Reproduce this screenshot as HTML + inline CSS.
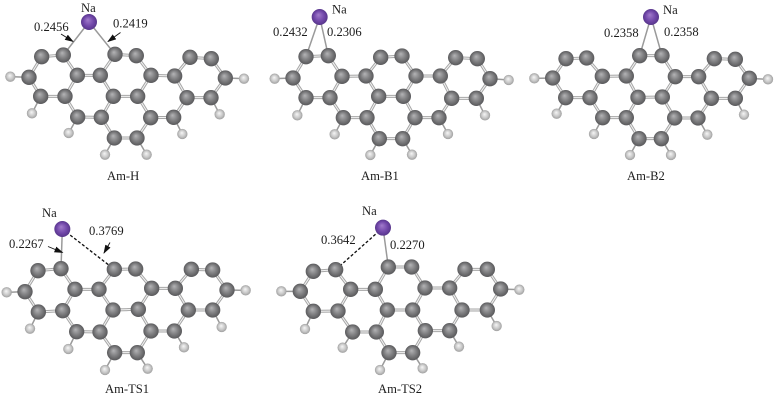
<!DOCTYPE html>
<html><head><meta charset="utf-8"><style>
html,body{margin:0;padding:0;background:#fff}
svg{display:block;filter:blur(.3px)}
text{font-family:"Liberation Serif",serif;font-size:12.6px;fill:#1c1c1c}
</style></head><body>
<svg width="776" height="402" viewBox="0 0 776 402" xmlns="http://www.w3.org/2000/svg">
<defs>
<radialGradient id="gc" cx="50%" cy="50%" r="52%" fx="42%" fy="36%"><stop offset="0" stop-color="#b4b4b6"/><stop offset=".5" stop-color="#838385"/><stop offset=".85" stop-color="#636365"/><stop offset="1" stop-color="#57575a"/></radialGradient>
<radialGradient id="gh" cx="50%" cy="50%" r="52%" fx="45%" fy="38%"><stop offset="0" stop-color="#f6f6f6"/><stop offset=".6" stop-color="#c8c8c8"/><stop offset="1" stop-color="#9c9c9c"/></radialGradient>
<radialGradient id="gn" cx="50%" cy="50%" r="52%" fx="42%" fy="36%"><stop offset="0" stop-color="#a27ccc"/><stop offset=".6" stop-color="#7248aa"/><stop offset="1" stop-color="#553488"/></radialGradient>
<circle id="c" r="23" fill="url(#gc)"/>
<circle id="h" r="15.5" fill="url(#gh)"/>
<circle id="n" r="24" fill="url(#gn)"/>
<marker id="ar" markerWidth="9" markerHeight="7" refX="8" refY="3" orient="auto" markerUnits="userSpaceOnUse"><path d="M0 0L9 3L0 6Z" fill="#111"/></marker>
<path id="b1" fill="none" d="M87 232L125 170L190 165L232 226L301 226L345 163L409 167L453 226L524 228L570 172L634 176L676 234L633 293L561 293L521 352L452 353L411 414L343 414L304 352L233 351L195 289L122 289ZM232 226L195 289M301 226L340 289L304 352M340 289L413 289L453 226M413 289L452 353M524 228L561 293"/>
<path id="b2" fill="none" d="M99 234L138 170L205 167L246 229L318 228L362 172L426 168L468 228L541 228L587 173L652 176L690 236L649 295L575 295L537 353L465 353L428 416L358 416L321 353L250 353L210 293L138 293ZM246 229L210 293M318 228L356 289L321 353M356 289L430 289L468 228M430 289L465 353M541 228L575 295"/>
<path id="b3" fill="none" d="M110 234L150 176L212 174L259 229L331 228L371 167L438 167L478 230L548 230L595 176L658 178L700 235L658 295L586 295L546 354L476 354L436 416L369 416L331 353L260 353L222 293L149 293ZM259 229L222 293M331 228L366 292L331 353M366 292L439 291L478 230M439 291L476 354M548 230L586 295"/>
<path id="b4" fill="none" d="M75 275L114 212L183 206L225 268L297 268L343 208L407 207L455 265L526 265L574 208L638 210L681 270L638 330L565 330L523 393L453 393L412 458L344 458L300 396L230 395L188 332L115 336ZM225 268L188 332M297 268L339 330L300 396M339 330L415 328L455 265M415 328L453 393M526 265L565 330"/>
<path id="b5" fill="none" d="M91 274L130 214L197 209L242 268L316 268L355 201L425 201L465 264L539 264L585 208L652 208L692 267L652 330L576 330L539 392L466 392L428 458L357 458L319 396L248 396L204 333L130 334ZM242 268L204 333M316 268L352 330L319 396M352 330L428 330L465 264M428 330L466 392M539 264L576 330"/>
</defs>

<!-- Am-H -->
<g transform="scale(.33333)">
<path fill="none" stroke="#9a9a9a" stroke-width="4.500" d="M31 230L87 232M96 340L122 289M206 399L233 351M315 464L343 414M440 464L411 414M547 402L521 352M659 343L633 293M732 236L676 234M267 66L190 165M267 66L345 163"/>
<use href="#b1" stroke="#a6a6a6" stroke-width="9"/><use href="#b1" stroke="#f4f4f4" stroke-width="3"/>
<use href="#c" x="125" y="170"/><use href="#c" x="190" y="165"/><use href="#c" x="87" y="232"/><use href="#c" x="232" y="226"/><use href="#c" x="301" y="226"/><use href="#c" x="122" y="289"/><use href="#c" x="195" y="289"/><use href="#c" x="233" y="351"/><use href="#c" x="304" y="352"/><use href="#c" x="340" y="289"/><use href="#c" x="413" y="289"/><use href="#c" x="345" y="163"/><use href="#c" x="409" y="167"/><use href="#c" x="453" y="226"/><use href="#c" x="524" y="228"/><use href="#c" x="570" y="172"/><use href="#c" x="634" y="176"/><use href="#c" x="676" y="234"/><use href="#c" x="561" y="293"/><use href="#c" x="633" y="293"/><use href="#c" x="452" y="353"/><use href="#c" x="521" y="352"/><use href="#c" x="343" y="414"/><use href="#c" x="411" y="414"/>
<use href="#h" x="31" y="230"/><use href="#h" x="96" y="340"/><use href="#h" x="206" y="399"/><use href="#h" x="315" y="464"/><use href="#h" x="440" y="464"/><use href="#h" x="547" y="402"/><use href="#h" x="659" y="343"/><use href="#h" x="732" y="236"/>
<use href="#n" x="267" y="66"/>
</g>
<line x1="61" y1="34" x2="73" y2="41.500" stroke="#111" stroke-width=".9" marker-end="url(#ar)"/>
<line x1="120.500" y1="32.500" x2="108" y2="41.500" stroke="#111" stroke-width=".9" marker-end="url(#ar)"/>
<text x="81" y="12">Na</text><text x="34" y="31">0.2456</text><text x="113" y="27.500">0.2419</text><text x="107" y="180">Am-H</text>

<!-- Am-B1 -->
<g transform="translate(260,0) scale(.33333)">
<path fill="none" stroke="#9a9a9a" stroke-width="4.500" d="M44 236L99 234M112 346L138 293M224 403L250 353M331 465L358 416M456 464L428 416M564 402L537 353M675 346L649 295M746 240L690 236M179 51L138 170M179 51L205 167"/>
<use href="#b2" stroke="#a6a6a6" stroke-width="9"/><use href="#b2" stroke="#f4f4f4" stroke-width="3"/>
<use href="#c" x="138" y="170"/><use href="#c" x="205" y="167"/><use href="#c" x="99" y="234"/><use href="#c" x="246" y="229"/><use href="#c" x="318" y="228"/><use href="#c" x="138" y="293"/><use href="#c" x="210" y="293"/><use href="#c" x="250" y="353"/><use href="#c" x="321" y="353"/><use href="#c" x="356" y="289"/><use href="#c" x="430" y="289"/><use href="#c" x="362" y="172"/><use href="#c" x="426" y="168"/><use href="#c" x="468" y="228"/><use href="#c" x="541" y="228"/><use href="#c" x="587" y="173"/><use href="#c" x="652" y="176"/><use href="#c" x="690" y="236"/><use href="#c" x="575" y="295"/><use href="#c" x="649" y="295"/><use href="#c" x="465" y="353"/><use href="#c" x="537" y="353"/><use href="#c" x="358" y="416"/><use href="#c" x="428" y="416"/>
<use href="#h" x="44" y="236"/><use href="#h" x="112" y="346"/><use href="#h" x="224" y="403"/><use href="#h" x="331" y="465"/><use href="#h" x="456" y="464"/><use href="#h" x="564" y="402"/><use href="#h" x="675" y="346"/><use href="#h" x="746" y="240"/>
<use href="#n" x="179" y="51"/>
</g>
<text x="332" y="13.500">Na</text><text x="273" y="36">0.2432</text><text x="327" y="36">0.2306</text><text x="361" y="180">Am-B1</text>

<!-- Am-B2 -->
<g transform="translate(516,0) scale(.33333)">
<path fill="none" stroke="#9a9a9a" stroke-width="4.500" d="M55 235L110 234M122 341L149 293M234 402L260 353M342 465L369 416M465 465L436 416M574 404L546 354M684 344L658 295M756 238L700 235M405 51L371 167M405 51L438 167"/>
<use href="#b3" stroke="#a6a6a6" stroke-width="9"/><use href="#b3" stroke="#f4f4f4" stroke-width="3"/>
<use href="#c" x="150" y="176"/><use href="#c" x="212" y="174"/><use href="#c" x="110" y="234"/><use href="#c" x="259" y="229"/><use href="#c" x="331" y="228"/><use href="#c" x="149" y="293"/><use href="#c" x="222" y="293"/><use href="#c" x="260" y="353"/><use href="#c" x="331" y="353"/><use href="#c" x="366" y="292"/><use href="#c" x="439" y="291"/><use href="#c" x="371" y="167"/><use href="#c" x="438" y="167"/><use href="#c" x="478" y="230"/><use href="#c" x="548" y="230"/><use href="#c" x="595" y="176"/><use href="#c" x="658" y="178"/><use href="#c" x="700" y="235"/><use href="#c" x="586" y="295"/><use href="#c" x="658" y="295"/><use href="#c" x="476" y="354"/><use href="#c" x="546" y="354"/><use href="#c" x="369" y="416"/><use href="#c" x="436" y="416"/>
<use href="#h" x="55" y="235"/><use href="#h" x="122" y="341"/><use href="#h" x="234" y="402"/><use href="#h" x="342" y="465"/><use href="#h" x="465" y="465"/><use href="#h" x="574" y="404"/><use href="#h" x="684" y="344"/><use href="#h" x="756" y="238"/>
<use href="#n" x="405" y="51"/>
</g>
<text x="663" y="14">Na</text><text x="604" y="37">0.2358</text><text x="664" y="36">0.2358</text><text x="627" y="180">Am-B2</text>

<!-- Am-TS1 -->
<g transform="translate(0,200) scale(.33333)">
<path fill="none" stroke="#9a9a9a" stroke-width="4.500" d="M20 277L75 275M90 386L115 336M205 447L230 395M315 510L344 458M443 506L412 458M552 442L523 393M665 381L638 330M737 271L681 270M187 87L183 206"/>
<path fill="none" stroke="#111" stroke-width="4" stroke-dasharray="9 6" d="M187 87L343 208"/>
<use href="#b4" stroke="#a6a6a6" stroke-width="9"/><use href="#b4" stroke="#f4f4f4" stroke-width="3"/>
<use href="#c" x="114" y="212"/><use href="#c" x="183" y="206"/><use href="#c" x="75" y="275"/><use href="#c" x="225" y="268"/><use href="#c" x="297" y="268"/><use href="#c" x="115" y="336"/><use href="#c" x="188" y="332"/><use href="#c" x="230" y="395"/><use href="#c" x="300" y="396"/><use href="#c" x="339" y="330"/><use href="#c" x="415" y="328"/><use href="#c" x="343" y="208"/><use href="#c" x="407" y="207"/><use href="#c" x="455" y="265"/><use href="#c" x="526" y="265"/><use href="#c" x="574" y="208"/><use href="#c" x="638" y="210"/><use href="#c" x="681" y="270"/><use href="#c" x="565" y="330"/><use href="#c" x="638" y="330"/><use href="#c" x="453" y="393"/><use href="#c" x="523" y="393"/><use href="#c" x="344" y="458"/><use href="#c" x="412" y="458"/>
<use href="#h" x="20" y="277"/><use href="#h" x="90" y="386"/><use href="#h" x="205" y="447"/><use href="#h" x="315" y="510"/><use href="#h" x="443" y="506"/><use href="#h" x="552" y="442"/><use href="#h" x="665" y="381"/><use href="#h" x="737" y="271"/>
<use href="#n" x="187" y="87"/>
</g>
<line x1="48" y1="246.500" x2="62.500" y2="252.500" stroke="#111" stroke-width=".9" marker-end="url(#ar)"/>
<line x1="110" y1="242.500" x2="104" y2="253" stroke="#111" stroke-width=".9" marker-end="url(#ar)"/>
<text x="42" y="217">Na</text><text x="9" y="248">0.2267</text><text x="89" y="235">0.3769</text><text x="105" y="393">Am-TS1</text>

<!-- Am-TS2 -->
<g transform="translate(270,200) scale(.33333)">
<path fill="none" stroke="#9a9a9a" stroke-width="4.500" d="M34 274L91 274M105 387L130 334M218 443L248 396M330 510L357 458M458 505L428 458M567 440L539 392M680 378L652 330M748 269L692 267M339 83L355 201"/>
<path fill="none" stroke="#111" stroke-width="4" stroke-dasharray="9 6" d="M339 83L197 209"/>
<use href="#b5" stroke="#a6a6a6" stroke-width="9"/><use href="#b5" stroke="#f4f4f4" stroke-width="3"/>
<use href="#c" x="130" y="214"/><use href="#c" x="197" y="209"/><use href="#c" x="91" y="274"/><use href="#c" x="242" y="268"/><use href="#c" x="316" y="268"/><use href="#c" x="130" y="334"/><use href="#c" x="204" y="333"/><use href="#c" x="248" y="396"/><use href="#c" x="319" y="396"/><use href="#c" x="352" y="330"/><use href="#c" x="428" y="330"/><use href="#c" x="355" y="201"/><use href="#c" x="425" y="201"/><use href="#c" x="465" y="264"/><use href="#c" x="539" y="264"/><use href="#c" x="585" y="208"/><use href="#c" x="652" y="208"/><use href="#c" x="692" y="267"/><use href="#c" x="576" y="330"/><use href="#c" x="652" y="330"/><use href="#c" x="466" y="392"/><use href="#c" x="539" y="392"/><use href="#c" x="357" y="458"/><use href="#c" x="428" y="458"/>
<use href="#h" x="34" y="274"/><use href="#h" x="105" y="387"/><use href="#h" x="218" y="443"/><use href="#h" x="330" y="510"/><use href="#h" x="458" y="505"/><use href="#h" x="567" y="440"/><use href="#h" x="680" y="378"/><use href="#h" x="748" y="269"/>
<use href="#n" x="339" y="83"/>
</g>
<text x="362" y="215">Na</text><text x="321" y="244">0.3642</text><text x="390" y="249">0.2270</text><text x="378" y="393">Am-TS2</text>
</svg>
</body></html>
